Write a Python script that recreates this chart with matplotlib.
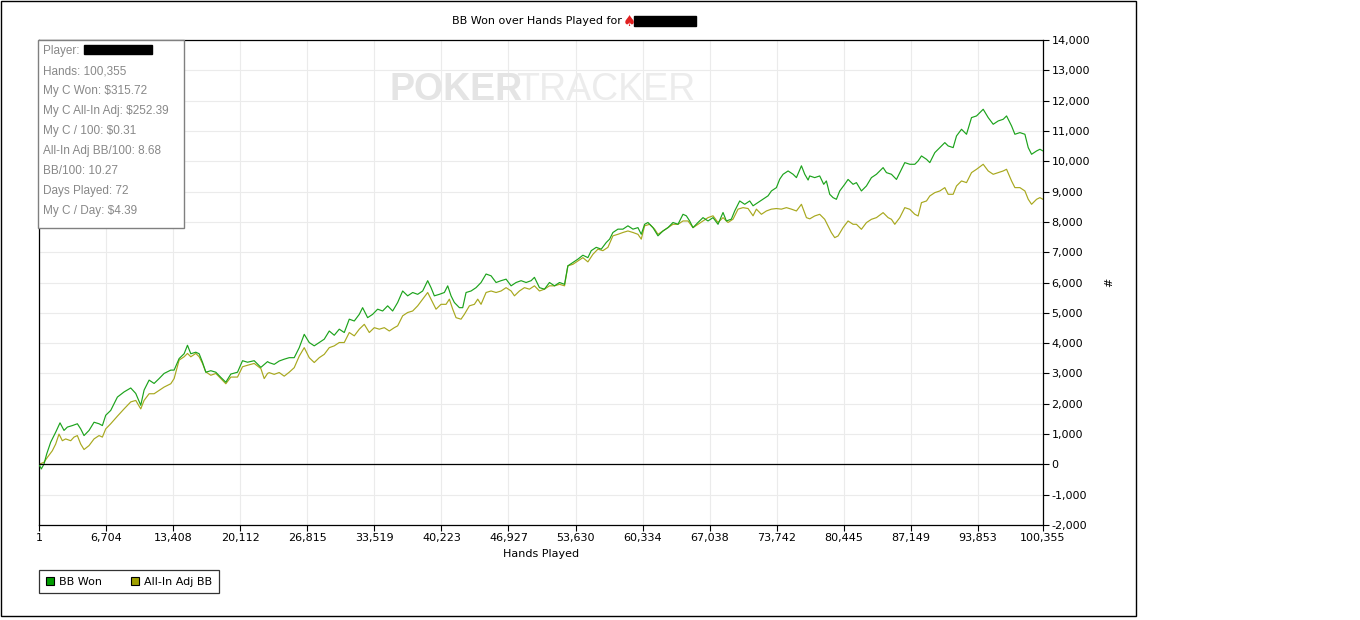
import matplotlib
matplotlib.use("Agg")
import matplotlib.pyplot as plt
from matplotlib.patches import Rectangle
from matplotlib.lines import Line2D
from matplotlib.ticker import FuncFormatter

# Chart data
bb_won_hands = [
    1, 233, 500, 767, 1167, 1668, 2101, 2501, 2835, 3335, 3835, 4169, 4502,
    5003, 5503, 6003, 6337, 6670, 7170, 7837, 8504, 9171, 9672, 10172, 10505,
    11006, 11506, 12006, 12506, 13173, 13507, 14007, 14507, 14841, 15174,
    15675, 16008, 16342, 16675, 17175, 17676, 18176, 18676, 19176, 19843,
    20344, 20844, 21511, 22178, 22845, 23010, 23510, 24010, 24511, 25011,
    25511, 26012, 26512, 27012, 27512, 28013, 28513, 29013, 29513, 30014,
    30514, 31014, 31514, 32015, 32348, 32848, 33349, 33849, 34349, 34849,
    35350, 35850, 36350, 36850, 37351, 37851, 38351, 38851, 39185, 39518,
    40019, 40519, 40852, 41186, 41519, 42020, 42353, 42687, 43187, 43687,
    44187, 44688, 45188, 45688, 46188, 46689, 47189, 47689, 48189, 48690,
    49190, 49523, 50024, 50524, 51024, 51530, 52031, 52531, 52864, 53365,
    53865, 54365, 54865, 55199, 55699, 56199, 56700, 57033, 57367, 57867,
    58367, 58867, 59368, 59868, 60201, 60535, 60868, 61369, 61869, 62369,
    62869, 63370, 63870, 64370, 64704, 65037, 65371, 65871, 66371, 66872,
    67372, 67872, 68372, 68706, 69206, 69539, 70040, 70540, 71040, 71374,
    71874, 72374, 72874, 73208, 73708, 74042, 74375, 74875, 75376, 75709,
    76209, 76543, 76876, 77036, 77536, 78036, 78436, 78703, 79037, 79370,
    79704, 80037, 80537, 80871, 81371, 81705, 82205, 82705, 83205, 83706,
    84373, 84706, 85206, 85707, 86040, 86540, 87041, 87541, 87874, 88208,
    88708, 89042, 89542, 90042, 90542, 90876, 91376, 91710, 92210, 92710,
    93210, 93711, 94378, 94878, 95378, 95878, 96379, 96712, 97212, 97546,
    98046, 98546, 98880, 99213, 99713, 100047, 100355,
]
bb_won = [
    0, -150, 10, 340, 730, 1060, 1370, 1120, 1230, 1280, 1340, 1170, 950,
    1120, 1390, 1340, 1280, 1620, 1780, 2220, 2390, 2520, 2340, 1950, 2450,
    2780, 2670, 2830, 3000, 3110, 3110, 3490, 3650, 3930, 3650,
    3700, 3650, 3370, 3040, 3090, 3040, 2870, 2710, 2980, 3040,
    3420, 3370, 3420, 3200, 3390, 3356, 3300, 3410, 3470, 3520,
    3520, 3850, 4290, 4020, 3910, 4020, 4130, 4400, 4260, 4460,
    4350, 4790, 4730, 4950, 5170, 4840, 4950, 5120, 5060, 5230,
    5060, 5340, 5720, 5560, 5670, 5610, 5720, 6060, 5830, 5560,
    5610, 5670, 5890, 5560, 5340, 5170, 5170, 5670, 5720, 5830,
    6000, 6280, 6220, 6000, 6060, 6110, 5890, 6000, 6060, 6000,
    6060, 6170, 5830, 5780, 6000, 5890, 6000, 5940, 6550, 6660,
    6770, 6900, 6820, 7050, 7160, 7100, 7320, 7430, 7650, 7760,
    7760, 7870, 7760, 7810, 7590, 7920, 7980, 7810, 7540, 7700,
    7810, 7980, 7920, 8250, 8200, 8030, 7810, 7980, 8140, 8030,
    8140, 7920, 8310, 8030, 8090, 8360, 8690, 8580, 8690, 8530,
    8640, 8750, 8860, 9020, 9130, 9410, 9570, 9680, 9570, 9460,
    9850, 9570, 9380, 9515, 9460, 9515, 9240, 9350, 8910, 8800,
    8745, 9020, 9240, 9400, 9240, 9295, 9020, 9185, 9460, 9570,
    9790, 9625, 9570, 9400, 9625, 9955, 9900, 9900, 10010, 10175,
    10065, 9955, 10285, 10450, 10615, 10505, 10450, 10835, 11055, 10890,
    11440, 11495, 11715, 11440, 11220, 11330, 11385, 11495, 11165, 10890,
    10945, 10890, 10450, 10230, 10340, 10395, 10340,
]

allin_hands = [
    1, 500, 834, 1334, 1668, 2001, 2335, 2668, 3168, 3502, 3835, 4169, 4502,
    5003, 5503, 6003, 6337, 6670, 7170, 7837, 8504, 9171, 9672, 10172, 10505,
    11006, 11506, 12006, 12506, 13173, 13507, 14007, 14507, 14841, 15174,
    15675, 16008, 16342, 16675, 17175, 17676, 18176, 18676, 19176, 19843,
    20344, 20844, 21511, 22178, 22511, 22845, 23010, 23510, 24010, 24511,
    25011, 25511, 26012, 26512, 27012, 27512, 28013, 28513, 29013, 29513,
    30014, 30514, 31014, 31514, 32015, 32515, 33015, 33515, 34016, 34516,
    35016, 35516, 35850, 36350, 36850, 37351, 37851, 38351, 38851, 39185,
    39685, 40185, 40686, 41019, 41353, 41686, 42186, 42520, 43020, 43520,
    43854, 44187, 44688, 45188, 45688, 46188, 46689, 47189, 47523, 48023,
    48523, 49023, 49523, 50024, 50524, 51024, 51530, 52031, 52531, 52864,
    53365, 53865, 54365, 54865, 55366, 55866, 56366, 56866, 57367, 57867,
    58367, 58867, 59368, 59868, 60201, 60535, 61035, 61535, 61869, 62369,
    62869, 63370, 63870, 64370, 64871, 65371, 65871, 66371, 66872, 67372,
    67872, 68372, 68873, 69373, 69873, 70373, 70873, 71374, 71707, 72207,
    72708, 73208, 73708, 74208, 74709, 75209, 75709, 76209, 76710, 77043,
    77536, 78036, 78536, 78870, 79203, 79537, 79870, 80371, 80871, 81371,
    81705, 82205, 82705, 83205, 83706, 84373, 84873, 85206, 85540, 86040,
    86540, 87041, 87541, 87874, 88208, 88708, 89042, 89542, 90042, 90542,
    90876, 91376, 91710, 92210, 92710, 93210, 93711, 94378, 94878, 95378,
    95878, 96379, 96712, 97212, 97546, 98046, 98546, 98880, 99213, 99713,
    100047, 100355,
]
allin_bb = [
    0, 70, 230, 450, 670, 1000, 780, 840, 780, 900, 950, 670, 490,
    620, 840, 950, 900, 1170, 1340, 1590, 1830, 2060, 2110, 1830, 2110,
    2330, 2330, 2440, 2550, 2660, 2830, 3440, 3550, 3660, 3550,
    3660, 3550, 3330, 3050, 2940, 3000, 2830, 2660, 2880, 2880,
    3220, 3270, 3330, 3160, 2830, 3000, 3026, 2970, 3030, 2910,
    3040, 3190, 3570, 3850, 3520, 3360, 3520, 3630, 3850, 3910,
    4020, 4020, 4350, 4240, 4460, 4620, 4350, 4510, 4460, 4510,
    4400, 4510, 4570, 4900, 5010, 5060, 5230, 5450, 5670, 5450,
    5120, 5280, 5280, 5450, 5120, 4840, 4790, 4950, 5230, 5280,
    5450, 5280, 5670, 5720, 5670, 5720, 5830, 5720, 5560, 5720,
    5830, 5780, 5890, 5720, 5780, 5890, 5890, 5940, 5890, 6550,
    6600, 6710, 6820, 6680, 6930, 7100, 7050, 7160, 7540, 7590,
    7650, 7700, 7650, 7590, 7430, 7870, 7920, 7760, 7590, 7700,
    7810, 7920, 7920, 8030, 8030, 7810, 7920, 8030, 8140, 8200,
    7980, 8140, 7980, 8090, 8420, 8470, 8440, 8200, 8420, 8250,
    8360, 8420, 8440, 8420, 8470, 8420, 8360, 8580, 8140, 8100,
    8195, 8250, 8085, 7865, 7645, 7480, 7535, 7810, 8030, 7920,
    7920, 7755, 7975, 8085, 8140, 8305, 8140, 8085, 7920, 8140,
    8470, 8415, 8250, 8195, 8635, 8690, 8855, 8965, 9020, 9130,
    8910, 8910, 9185, 9350, 9295, 9625, 9735, 9900, 9680, 9570,
    9625, 9680, 9735, 9350, 9130, 9130, 9020, 8745, 8580, 8745,
    8800, 8745,
]

x_ticks = [1, 6704, 13408, 20112, 26815, 33519, 40223, 46927, 53630,
           60334, 67038, 73742, 80445, 87149, 93853, 100355]
y_ticks = list(range(-2000, 14001, 1000))

stats_lines = [
    "Player:",
    "Hands: 100,355",
    "My C Won: $315.72",
    "My C All-In Adj: $252.39",
    "My C / 100: $0.31",
    "All-In Adj BB/100: 8.68",
    "BB/100: 10.27",
    "Days Played: 72",
    "My C / Day: $4.39",
]

GREEN = "#1ca31c"
OLIVE = "#a8a81e"
W, H = 1360, 620

plt.rcParams["font.family"] = ["DejaVu Sans"]


def fx(px):
    return px / W


def fy(py):
    return 1 - py / H


fig = plt.figure(figsize=(W / 100, H / 100), dpi=100)
ax = fig.add_axes([fx(39), fy(525), fx(1043) - fx(39), fy(40) - fy(525)])

ax.plot(bb_won_hands, bb_won, color=GREEN, lw=0.85, zorder=3)
ax.plot(allin_hands, allin_bb, color=OLIVE, lw=0.85, zorder=2)
ax.axhline(0, color="black", lw=0.9, zorder=4)

ax.set_xlim(1, 100355)
ax.set_ylim(-2000, 14000)
ax.set_xticks(x_ticks)
ax.set_yticks(y_ticks)
ax.xaxis.set_major_formatter(FuncFormatter(lambda v, p: f"{int(round(v)):,}"))
ax.yaxis.set_major_formatter(FuncFormatter(lambda v, p: f"{int(v):,}"))
ax.yaxis.tick_right()
ax.yaxis.set_label_position("right")
ax.tick_params(direction="out", length=4, width=0.8, labelsize=8,
               colors="black", pad=2)
ax.grid(True, color="#ebebeb", lw=0.8, zorder=0)
ax.set_axisbelow(True)
for s in ax.spines.values():
    s.set_color("black")
    s.set_linewidth(0.9)

ax.set_xlabel("Hands Played", fontsize=8, labelpad=4)
ax.set_ylabel("#", fontsize=8, rotation=90, labelpad=10)

# watermark
ax.text(fx(390), fy(90), "POKER", transform=fig.transFigure, fontsize=27,
        family="Liberation Sans", weight="bold", color="#e4e4e4",
        ha="left", va="center", zorder=1)
ax.text(fx(695), fy(90), "TRACKER", transform=fig.transFigure, fontsize=27,
        family="Liberation Sans", color="#ececec",
        ha="right", va="center", zorder=1)

# title
fig.text(fx(452), fy(21), "BB Won over Hands Played for", fontsize=8,
         ha="left", va="center")
fig.text(fx(623), fy(21), "\u2660", fontsize=10.5, color="#e02020",
         ha="left", va="center")
fig.add_artist(Rectangle((fx(634), fy(26)), fx(62), 10 / H,
                         transform=fig.transFigure, color="black"))

# stats box
fig.add_artist(Rectangle((fx(38), fy(228)), fx(146), 188 / H,
                         transform=fig.transFigure, facecolor="white",
                         edgecolor="#808080", lw=1, zorder=5))
for i, line in enumerate(stats_lines):
    fig.text(fx(43), fy(51 + 20 * i), line, fontsize=8.5, color="#888888",
             family="Liberation Sans", ha="left", va="center", zorder=6)
fig.add_artist(Rectangle((fx(84), fy(54)), fx(68), 9 / H,
                         transform=fig.transFigure, color="black", zorder=6))

# legend
handles = [
    Line2D([], [], ls="none", marker="s", markersize=6,
           markerfacecolor="#009c00", markeredgecolor="black", mew=0.8),
    Line2D([], [], ls="none", marker="s", markersize=6,
           markerfacecolor="#a0a000", markeredgecolor="black", mew=0.8),
]
leg = fig.legend(handles, ["BB Won", "All-In Adj BB"], loc="upper left",
                 bbox_to_anchor=(fx(39), fy(570)), ncol=2, fontsize=8,
                 frameon=True, fancybox=False, borderaxespad=0,
                 handlelength=0.8, handletextpad=0.4, columnspacing=2.6,
                 borderpad=0.6)
leg.get_frame().set_edgecolor("black")
leg.get_frame().set_linewidth(0.9)

# outer frame
fig.add_artist(Rectangle((fx(0.5), fy(616)), fx(1135), 615.5 / H,
                         transform=fig.transFigure, fill=False,
                         edgecolor="black", lw=1))

fig.savefig("out.png", dpi=100)
